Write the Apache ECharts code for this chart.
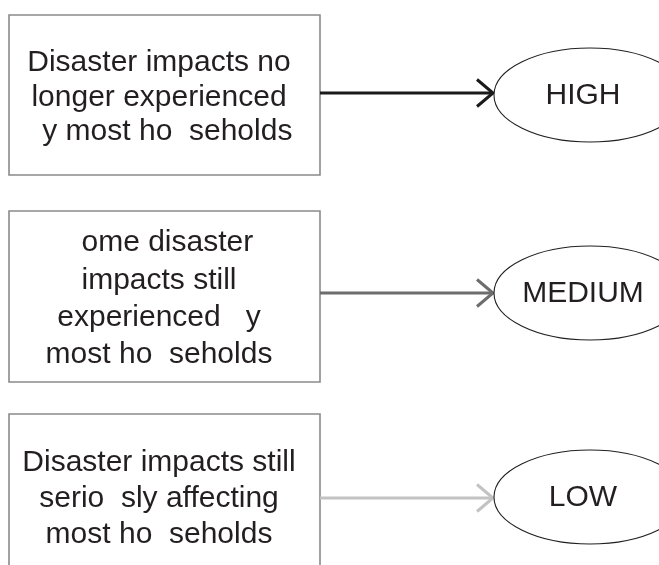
<!DOCTYPE html>
<html>
<head>
<meta charset="utf-8">
<script src="https://cdn.jsdelivr.net/npm/echarts@6/dist/echarts.min.js"></script>
<style>
html,body{margin:0;padding:0;background:#fff;}
#main{width:659px;height:565px;}
</style>
</head>
<body>
<div id="main"></div>
<script>
// ---- data ----
const levels = ['HIGH', 'MEDIUM', 'LOW'];
const descriptions = [
  'Disaster impacts no\nlonger experienced\n  y most ho  seholds',
  '  ome disaster\nimpacts still\nexperienced   y\nmost ho  seholds',
  'Disaster impacts still\nserio  sly affecting\nmost ho  seholds'
];
const rows = [0, 1, 2];

// ---- layout (pixel-space units of the hidden axes) ----
const layout = [
  { boxTop: 15, boxBottom: 175, arrowY: 93, textY: 97.5, lineH: 34.5, ellCy: 95 },
  { boxTop: 211, boxBottom: 382, arrowY: 293, textY: 299, lineH: 37.2, ellCy: 293 },
  { boxTop: 414, boxBottom: 620, arrowY: 498, textY: 499, lineH: 35.8, ellCy: 497 }
];
const arrowColors = ['#1a1a1a', '#6d6d6d', '#c3c3c3'];
const BOX_L = 9, BOX_R = 320, TEXT_X = 159, TIP_X = 493;
const ELL_CX = 590, ELL_RX = 96, ELL_RY = 47, LABEL_X = 583;
const FONT = '"Liberation Sans", Arial, Helvetica, sans-serif';

const chart = echarts.init(document.getElementById('main'));

function renderItem(params, api) {
  const i = api.value(0);
  const L = layout[i];
  const p = (x, y) => api.coord([x, y]);
  const tl = p(BOX_L, L.boxTop), br = p(BOX_R, L.boxBottom);
  const a0 = p(BOX_R, L.arrowY), a1 = p(TIP_X, L.arrowY);
  const c1 = p(TIP_X - 16, L.arrowY - 13.5), c2 = p(TIP_X - 16, L.arrowY + 13.5);
  const ec = p(ELL_CX, L.ellCy), er = p(ELL_CX + ELL_RX, L.ellCy + ELL_RY);
  const tc = p(TEXT_X, L.textY), lc = p(LABEL_X, L.ellCy + 1);
  return {
    type: 'group',
    children: [
      { type: 'rect', shape: { x: tl[0], y: tl[1], width: br[0] - tl[0], height: br[1] - tl[1] },
        style: { fill: '#fff', stroke: '#8a8a8a', lineWidth: 1.6 } },
      { type: 'text', x: tc[0], y: tc[1],
        style: { text: descriptions[i], font: '30px ' + FONT, fill: '#231f20',
                 align: 'center', verticalAlign: 'middle', lineHeight: L.lineH } },
      { type: 'line', shape: { x1: a0[0], y1: a0[1], x2: a1[0] - 1, y2: a1[1] },
        style: { stroke: arrowColors[i], lineWidth: 3 } },
      { type: 'polyline', shape: { points: [c1, a1, c2] },
        style: { stroke: arrowColors[i], lineWidth: 3, fill: null } },
      { type: 'ellipse', shape: { cx: ec[0], cy: ec[1], rx: er[0] - ec[0], ry: er[1] - ec[1] },
        style: { fill: '#fff', stroke: '#231f20', lineWidth: 1.1 } },
      { type: 'text', x: lc[0], y: lc[1],
        style: { text: levels[i], font: '30px ' + FONT, fill: '#231f20',
                 align: 'center', verticalAlign: 'middle' } }
    ]
  };
}

chart.setOption({
  animation: false,
  grid: { left: 0, right: 0, top: 0, bottom: 0 },
  xAxis: { type: 'value', min: 0, max: 659, show: false },
  yAxis: { type: 'value', min: 0, max: 565, inverse: true, show: false },
  series: [{
    type: 'custom',
    renderItem: renderItem,
    data: rows.map(r => [r]),
    clip: false
  }]
});
</script>
</body>
</html>
